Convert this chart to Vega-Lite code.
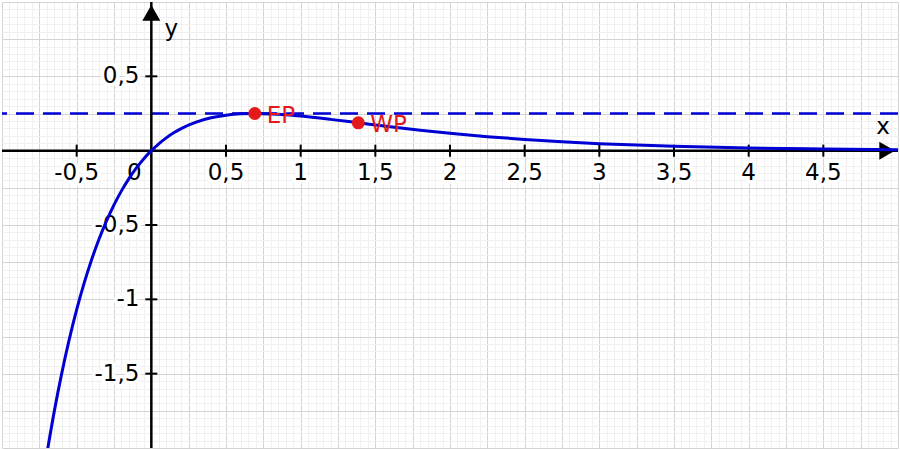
{
  "$schema": "https://vega.github.io/schema/vega-lite/v6.json",
  "width": 900,
  "height": 450,
  "autosize": {"type": "fit", "contains": "padding"},
  "padding": 0,
  "background": "white",
  "config": {"view": {"stroke": null}, "text": {"font": "DejaVu Sans"}},
  "datasets": {
    "curve": [
      {"x": -0.7, "y": -2.04145}, {"x": -0.65, "y": -1.75376}, {"x": -0.6, "y": -1.498},
      {"x": -0.55, "y": -1.27092}, {"x": -0.5, "y": -1.06956}, {"x": -0.45, "y": -0.89129},
      {"x": -0.4, "y": -0.73372}, {"x": -0.35, "y": -0.59468}, {"x": -0.3, "y": -0.47226},
      {"x": -0.25, "y": -0.36469}, {"x": -0.2, "y": -0.27042}, {"x": -0.15, "y": -0.18803},
      {"x": -0.1, "y": -0.11623}, {"x": -0.05, "y": -0.0539}, {"x": 0, "y": 0},
      {"x": 0.05, "y": 0.04639}, {"x": 0.1, "y": 0.08611}, {"x": 0.15, "y": 0.11989},
      {"x": 0.2, "y": 0.14841}, {"x": 0.3, "y": 0.19201}, {"x": 0.4, "y": 0.22099},
      {"x": 0.5, "y": 0.23865}, {"x": 0.6, "y": 0.24762}, {"x": 0.7, "y": 0.24999},
      {"x": 0.8, "y": 0.24743}, {"x": 0.9, "y": 0.24127}, {"x": 1.0, "y": 0.23254},
      {"x": 1.2, "y": 0.21047}, {"x": 1.4, "y": 0.18579}, {"x": 1.6, "y": 0.16114},
      {"x": 1.8, "y": 0.13798}, {"x": 2.0, "y": 0.11702}, {"x": 2.25, "y": 0.09429},
      {"x": 2.5, "y": 0.07534}, {"x": 2.75, "y": 0.05984}, {"x": 3.0, "y": 0.04731},
      {"x": 3.5, "y": 0.02929}, {"x": 4.0, "y": 0.01798}, {"x": 4.5, "y": 0.01099},
      {"x": 5.0, "y": 0.00669}
    ],
    "xticks": [
      {"v": -0.5, "t": "-0,5"}, {"v": 0.5, "t": "0,5"}, {"v": 1, "t": "1"},
      {"v": 1.5, "t": "1,5"}, {"v": 2, "t": "2"}, {"v": 2.5, "t": "2,5"},
      {"v": 3, "t": "3"}, {"v": 3.5, "t": "3,5"}, {"v": 4, "t": "4"}, {"v": 4.5, "t": "4,5"}
    ],
    "yticks": [
      {"v": 0.5, "t": "0,5"}, {"v": -0.5, "t": "-0,5"}, {"v": -1, "t": "-1"}, {"v": -1.5, "t": "-1,5"}
    ],
    "pts": [
      {"x": 0.693, "y": 0.25, "name": "EP"},
      {"x": 1.386, "y": 0.1875, "name": "WP"}
    ],
    "axlabels": [
      {"x": 4.9, "y": 0.113, "t": "x"},
      {"x": 0.133, "y": 0.773, "t": "y"}
    ],
    "one": [{}]
  },
  "resolve": {"axis": {"x": "independent", "y": "independent"}},
  "layer": [
    {
      "data": {"name": "pts"},
      "mark": {"type": "point", "opacity": 0, "clip": true},
      "encoding": {
        "x": {"field": "x", "type": "quantitative", "scale": {"domain": [-1, 5], "nice": false, "zero": false},
          "axis": {"grid": true, "gridColor": "#f0f0f0", "gridWidth": 1, "labels": false, "ticks": false, "domain": false, "title": null, "tickCount": 120, "minExtent": 0, "maxExtent": 0}},
        "y": {"field": "y", "type": "quantitative", "scale": {"domain": [-2, 1], "nice": false, "zero": false},
          "axis": {"grid": true, "gridColor": "#f0f0f0", "gridWidth": 1, "labels": false, "ticks": false, "domain": false, "title": null, "tickCount": 60, "minExtent": 0, "maxExtent": 0}}
      }
    },
    {
      "data": {"name": "pts"},
      "mark": {"type": "point", "opacity": 0, "clip": true},
      "encoding": {
        "x": {"field": "x", "type": "quantitative", "scale": {"domain": [-1, 5], "nice": false, "zero": false},
          "axis": {"grid": true, "gridColor": "#d4d4d4", "gridWidth": 1, "labels": false, "ticks": false, "domain": false, "title": null, "minExtent": 0, "maxExtent": 0,
            "values": [-1, -0.75, -0.5, -0.25, 0, 0.25, 0.5, 0.75, 1, 1.25, 1.5, 1.75, 2, 2.25, 2.5, 2.75, 3, 3.25, 3.5, 3.75, 4, 4.25, 4.5, 4.75, 5]}},
        "y": {"field": "y", "type": "quantitative", "scale": {"domain": [-2, 1], "nice": false, "zero": false},
          "axis": {"grid": true, "gridColor": "#d4d4d4", "gridWidth": 1, "labels": false, "ticks": false, "domain": false, "title": null, "minExtent": 0, "maxExtent": 0,
            "values": [-2, -1.75, -1.5, -1.25, -1, -0.75, -0.5, -0.25, 0, 0.25, 0.5, 0.75, 1]}}
      }
    },
    {
      "data": {"name": "one"},
      "mark": {"type": "rule", "color": "#0000d2", "strokeWidth": 2.5, "strokeDash": [18, 9]},
      "encoding": {
        "y": {"datum": 0.25, "type": "quantitative", "scale": {"domain": [-2, 1], "nice": false, "zero": false}, "axis": null}
      }
    },
    {
      "data": {"name": "one"},
      "mark": {"type": "rule", "color": "black", "strokeWidth": 2.5},
      "encoding": {
        "y": {"datum": 0, "type": "quantitative", "scale": {"domain": [-2, 1], "nice": false, "zero": false}, "axis": null}
      }
    },
    {
      "data": {"name": "one"},
      "mark": {"type": "rule", "color": "black", "strokeWidth": 2.5},
      "encoding": {
        "x": {"datum": 0, "type": "quantitative", "scale": {"domain": [-1, 5], "nice": false, "zero": false}, "axis": null}
      }
    },
    {
      "data": {"name": "xticks"},
      "mark": {"type": "tick", "orient": "vertical", "size": 12, "thickness": 2, "color": "black", "opacity": 1},
      "encoding": {
        "x": {"field": "v", "type": "quantitative", "scale": {"domain": [-1, 5], "nice": false, "zero": false}, "axis": null},
        "y": {"datum": 0, "type": "quantitative", "scale": {"domain": [-2, 1], "nice": false, "zero": false}, "axis": null}
      }
    },
    {
      "data": {"name": "yticks"},
      "mark": {"type": "tick", "orient": "horizontal", "size": 12, "thickness": 2, "color": "black", "opacity": 1},
      "encoding": {
        "x": {"datum": 0, "type": "quantitative", "scale": {"domain": [-1, 5], "nice": false, "zero": false}, "axis": null},
        "y": {"field": "v", "type": "quantitative", "scale": {"domain": [-2, 1], "nice": false, "zero": false}, "axis": null}
      }
    },
    {
      "data": {"name": "xticks"},
      "mark": {"type": "text", "fontSize": 23, "baseline": "middle", "align": "center", "dy": 22, "fill": "white", "stroke": "white", "strokeWidth": 7, "strokeJoin": "round"},
      "encoding": {
        "x": {"field": "v", "type": "quantitative", "scale": {"domain": [-1, 5], "nice": false, "zero": false}, "axis": null},
        "y": {"datum": 0, "type": "quantitative", "scale": {"domain": [-2, 1], "nice": false, "zero": false}, "axis": null},
        "text": {"field": "t"}
      }
    },
    {
      "data": {"name": "xticks"},
      "mark": {"type": "text", "fontSize": 23, "baseline": "middle", "align": "center", "dy": 22, "color": "black"},
      "encoding": {
        "x": {"field": "v", "type": "quantitative", "scale": {"domain": [-1, 5], "nice": false, "zero": false}, "axis": null},
        "y": {"datum": 0, "type": "quantitative", "scale": {"domain": [-2, 1], "nice": false, "zero": false}, "axis": null},
        "text": {"field": "t"}
      }
    },
    {
      "data": {"name": "yticks"},
      "mark": {"type": "text", "fontSize": 23, "baseline": "middle", "align": "right", "dx": -12, "fill": "white", "stroke": "white", "strokeWidth": 7, "strokeJoin": "round"},
      "encoding": {
        "x": {"datum": 0, "type": "quantitative", "scale": {"domain": [-1, 5], "nice": false, "zero": false}, "axis": null},
        "y": {"field": "v", "type": "quantitative", "scale": {"domain": [-2, 1], "nice": false, "zero": false}, "axis": null},
        "text": {"field": "t"}
      }
    },
    {
      "data": {"name": "yticks"},
      "mark": {"type": "text", "fontSize": 23, "baseline": "middle", "align": "right", "dx": -12, "color": "black"},
      "encoding": {
        "x": {"datum": 0, "type": "quantitative", "scale": {"domain": [-1, 5], "nice": false, "zero": false}, "axis": null},
        "y": {"field": "v", "type": "quantitative", "scale": {"domain": [-2, 1], "nice": false, "zero": false}, "axis": null},
        "text": {"field": "t"}
      }
    },
    {
      "data": {"name": "one"},
      "mark": {"type": "text", "fontSize": 23, "baseline": "middle", "align": "center", "dx": -17, "dy": 22, "color": "black"},
      "encoding": {
        "x": {"datum": 0, "type": "quantitative", "scale": {"domain": [-1, 5], "nice": false, "zero": false}, "axis": null},
        "y": {"datum": 0, "type": "quantitative", "scale": {"domain": [-2, 1], "nice": false, "zero": false}, "axis": null},
        "text": {"value": "0"}
      }
    },
    {
      "data": {"name": "axlabels"},
      "mark": {"type": "text", "fontSize": 23, "baseline": "alphabetic", "align": "center", "color": "black"},
      "encoding": {
        "x": {"field": "x", "type": "quantitative", "scale": {"domain": [-1, 5], "nice": false, "zero": false}, "axis": null},
        "y": {"field": "y", "type": "quantitative", "scale": {"domain": [-2, 1], "nice": false, "zero": false}, "axis": null},
        "text": {"field": "t"}
      }
    },
    {
      "data": {"name": "one"},
      "mark": {"type": "point", "shape": "triangle-right", "size": 324, "filled": true, "color": "black", "opacity": 1},
      "encoding": {
        "x": {"datum": 4.927, "type": "quantitative", "scale": {"domain": [-1, 5], "nice": false, "zero": false}, "axis": null},
        "y": {"datum": 0, "type": "quantitative", "scale": {"domain": [-2, 1], "nice": false, "zero": false}, "axis": null}
      }
    },
    {
      "data": {"name": "one"},
      "mark": {"type": "point", "shape": "triangle-up", "size": 324, "filled": true, "color": "black", "opacity": 1},
      "encoding": {
        "x": {"datum": 0, "type": "quantitative", "scale": {"domain": [-1, 5], "nice": false, "zero": false}, "axis": null},
        "y": {"datum": 0.927, "type": "quantitative", "scale": {"domain": [-2, 1], "nice": false, "zero": false}, "axis": null}
      }
    },
    {
      "data": {"name": "curve"},
      "mark": {"type": "line", "color": "#0000d2", "strokeWidth": 3, "interpolate": "monotone", "clip": true},
      "encoding": {
        "x": {"field": "x", "type": "quantitative", "scale": {"domain": [-1, 5], "nice": false, "zero": false}, "axis": null},
        "y": {"field": "y", "type": "quantitative", "scale": {"domain": [-2, 1], "nice": false, "zero": false}, "axis": null}
      }
    },
    {
      "data": {"name": "pts"},
      "mark": {"type": "circle", "size": 170, "color": "#e3191c", "opacity": 1},
      "encoding": {
        "x": {"field": "x", "type": "quantitative", "scale": {"domain": [-1, 5], "nice": false, "zero": false}, "axis": null},
        "y": {"field": "y", "type": "quantitative", "scale": {"domain": [-2, 1], "nice": false, "zero": false}, "axis": null}
      }
    },
    {
      "data": {"name": "pts"},
      "mark": {"type": "text", "fontSize": 23, "baseline": "middle", "align": "left", "dx": 12, "dy": 2, "color": "#e3191c"},
      "encoding": {
        "x": {"field": "x", "type": "quantitative", "scale": {"domain": [-1, 5], "nice": false, "zero": false}, "axis": null},
        "y": {"field": "y", "type": "quantitative", "scale": {"domain": [-2, 1], "nice": false, "zero": false}, "axis": null},
        "text": {"field": "name"}
      }
    }
  ]
}
